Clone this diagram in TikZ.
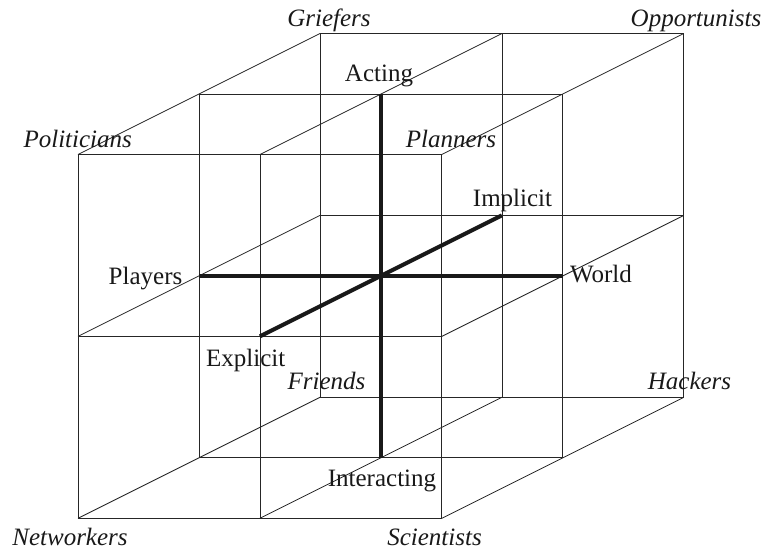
\documentclass[tikz,border=0pt]{standalone}
\usepackage{fontspec}
\setmainfont{Liberation Serif}
\begin{document}
\begin{tikzpicture}[x=1pt,y=-1pt,
  grid/.style={line width=0.8pt,draw=black!85},
  axis/.style={line width=4pt,draw=black!90},
  lab/.style={anchor=base,inner sep=0pt,font=\fontsize{25}{30}\selectfont,text=black!90},
  ilab/.style={lab,font=\fontsize{25}{30}\selectfont\itshape}]
\useasboundingbox (0,0) rectangle (766,550);
\fill[white] (0,0) rectangle (766,550);
% lattice points
\foreach \i in {0,1,2}{
  \foreach \j in {0,1,2}{
    \foreach \k in {0,1,2}{
      \coordinate (p\i\j\k) at ({78+181.9*\i+121*\k},{518.3-181.9*\j-60.5*\k});
    }}}
% thin lattice lines
\foreach \a in {0,1,2}{
  \foreach \b in {0,1,2}{
    \draw[grid] (p0\a\b) -- (p2\a\b);
    \draw[grid] (p\a0\b) -- (p\a2\b);
    \draw[grid] (p\a\b0) -- (p\a\b2);
  }}
% labels
\node[ilab] (griefers) at (329,26.7) {Griefers};
\node[ilab] (opportunists) at (696,26.7) {Opportunists};
\node[ilab] (politicians) at (77.7,147.7) {Politicians};
\node[ilab] (planners) at (451,147.7) {Planners};
\node[ilab] (friends) at (326.5,389.3) {Friends};
\node[ilab] (hackers) at (689.5,389.3) {Hackers};
\node[ilab] (networkers) at (70,545.5) {Networkers};
\node[ilab] (scientists) at (434.5,545.5) {Scientists};
\node[lab] (acting) at (379,81) {Acting};
\node[lab] (interacting) at (382,486) {Interacting};
\node[lab] (players) at (145.5,284.3) {Players};
\node[lab] (world) at (601,282) {World};
\node[lab] (implicit) at (512.5,206.7) {Implicit};
\node[lab] (explicit) at (245.7,366) {Explicit};
% thick axes
\draw[axis] (p011) -- (p211);
\draw[axis] (p101) -- (p121);
\draw[axis] (p110) -- (p112);
\end{tikzpicture}
\end{document}
